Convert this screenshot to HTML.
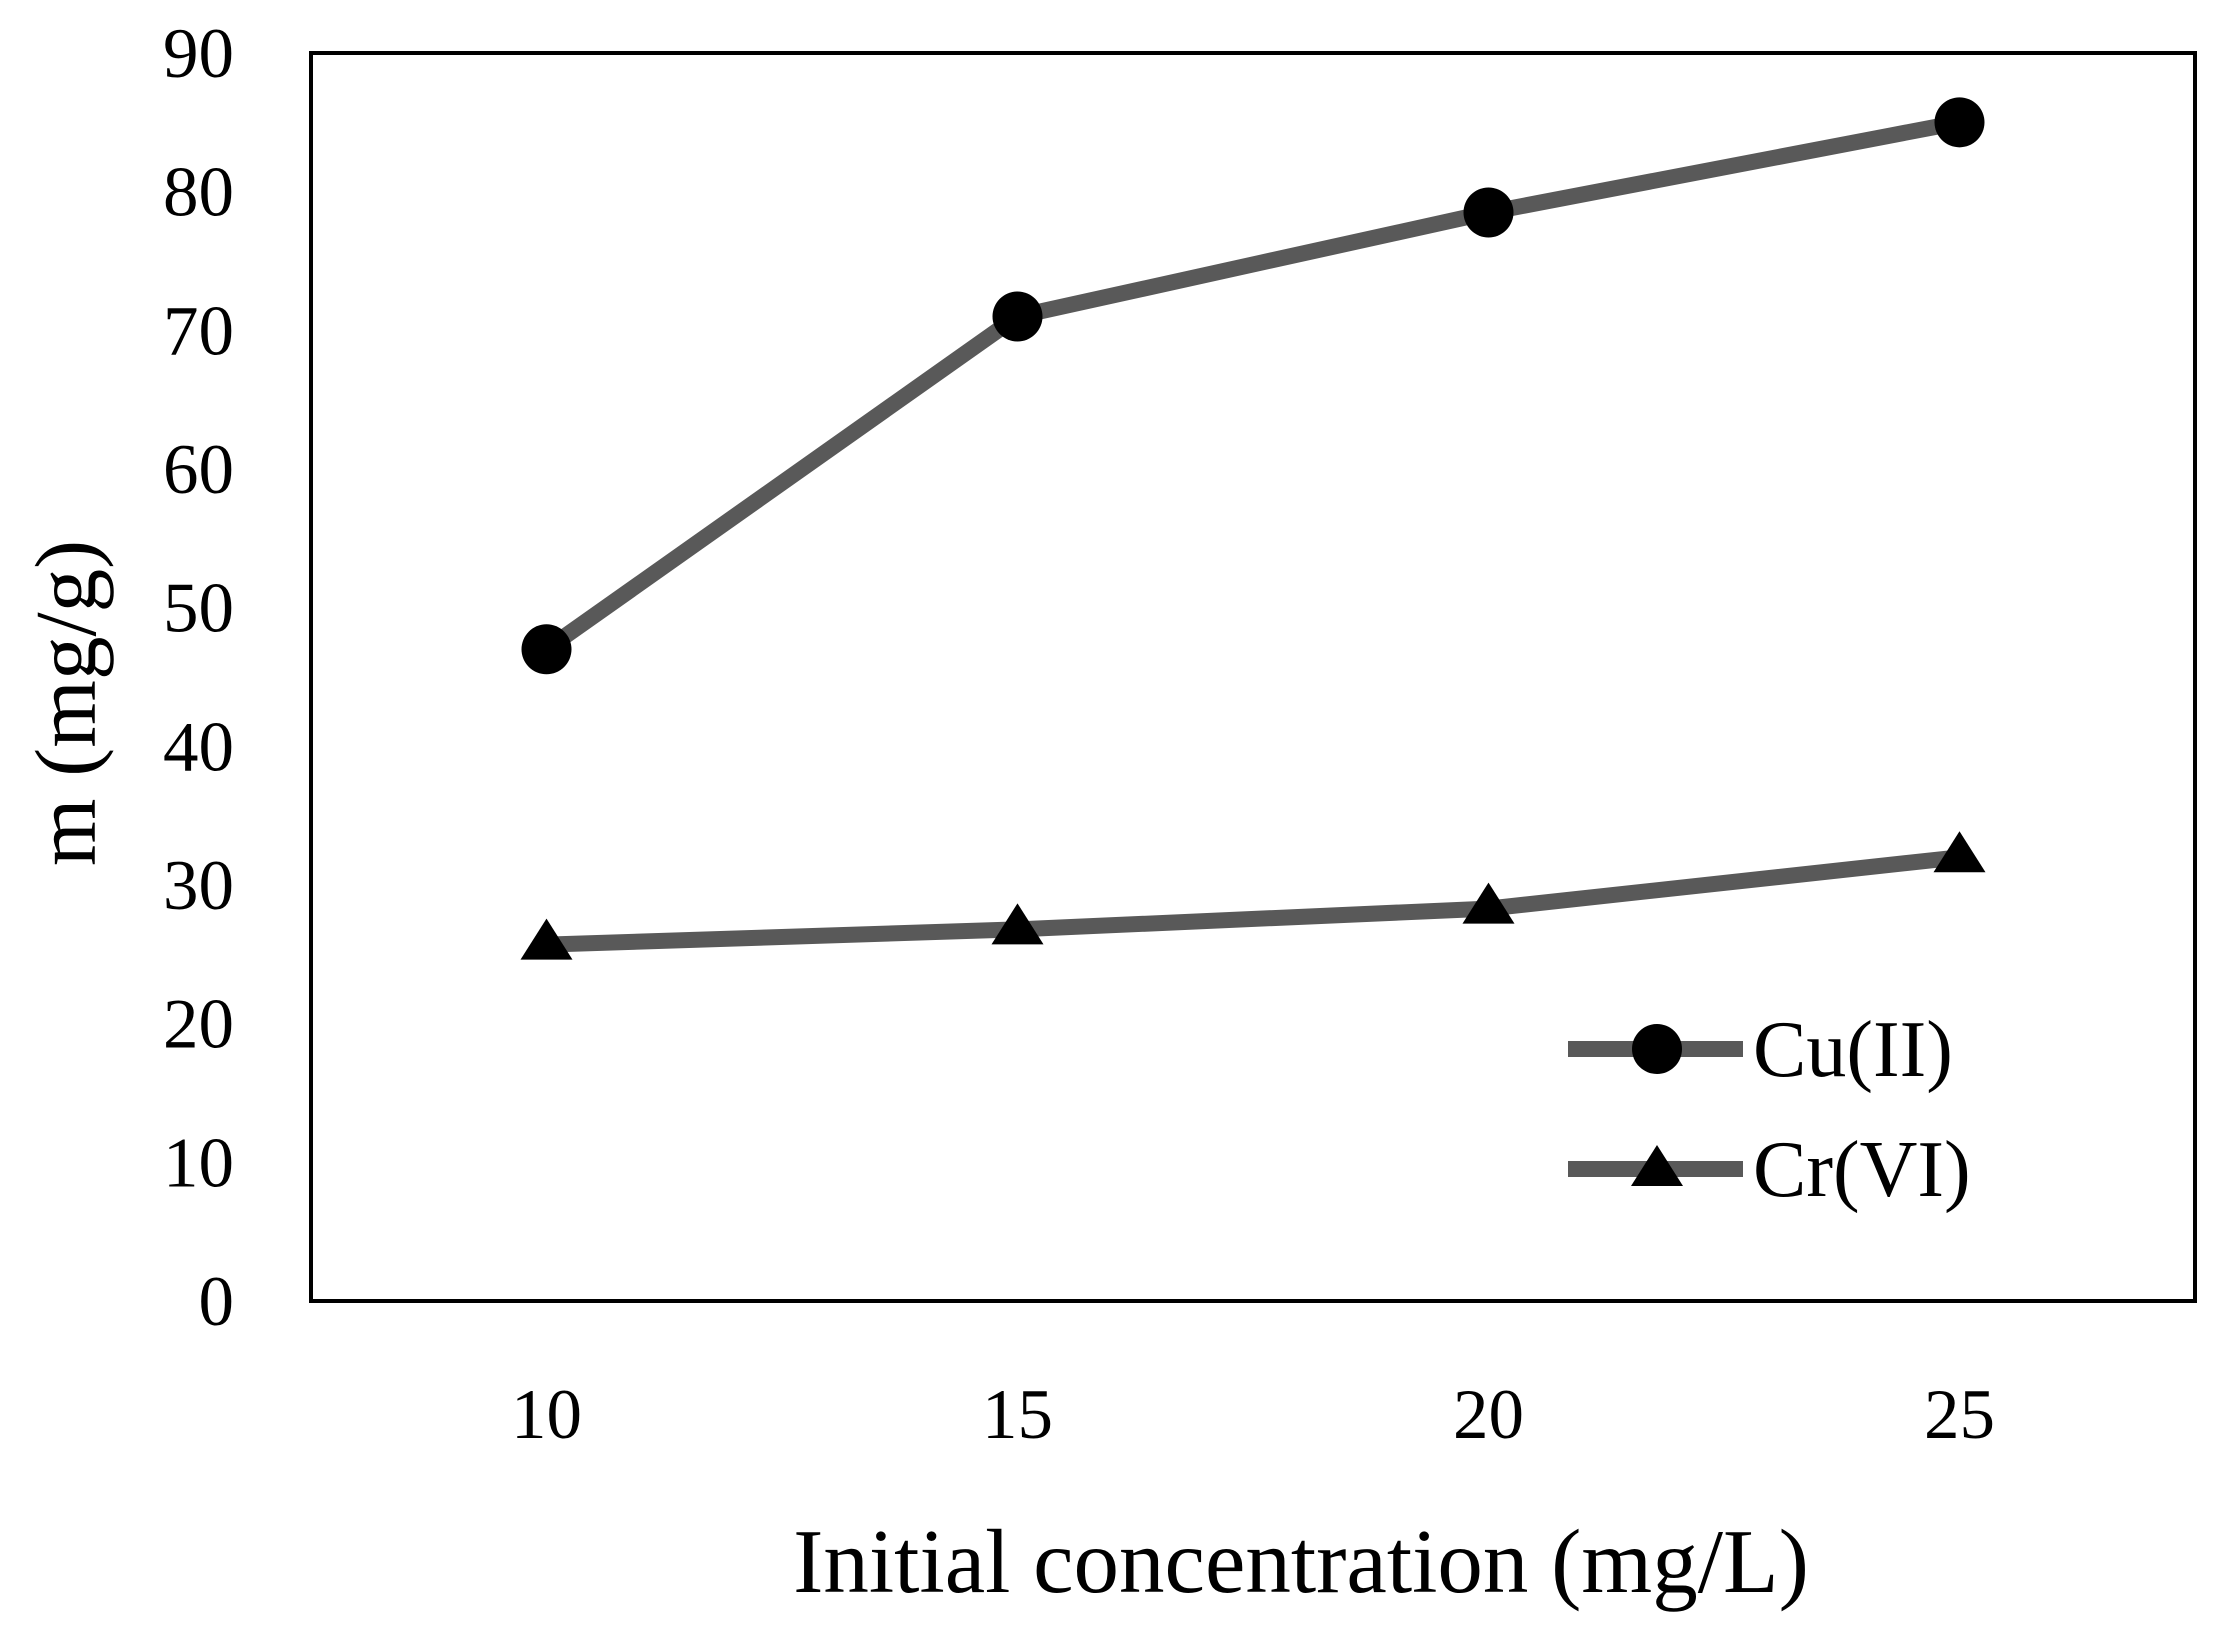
<!DOCTYPE html>
<html><head><meta charset="utf-8"><style>
html,body{margin:0;padding:0;background:#fff;}
svg text{font-family:"Liberation Serif",serif;fill:#000;}
</style></head><body>
<svg id="chart" width="2221" height="1621" viewBox="0 0 2221 1621" xmlns="http://www.w3.org/2000/svg">
<rect width="2221" height="1621" fill="#fff"/>
<g id="yticks"></g>
<g id="xticks"></g>
<g id="series"></g>
<rect x="311" y="53" width="1884" height="1248" fill="none" stroke="#000" stroke-width="4"/>
<text transform="translate(95,703) rotate(-90)" text-anchor="middle" font-size="87">m (mg/g)</text>
<text x="1301" y="1592" text-anchor="middle" font-size="91">Initial concentration (mg/L)</text>
<g>
<g>
<line x1="1568" y1="1049" x2="1743" y2="1049" stroke="#595959" stroke-width="16"/>
<circle cx="1657" cy="1049" r="25" fill="#000"/>
<text x="1753" y="1076" font-size="80">Cu(II)</text>
</g>
<g>
<line x1="1568" y1="1169" x2="1743" y2="1169" stroke="#595959" stroke-width="16"/>
<polygon points="1657,1145 1683,1186 1631,1186" fill="#000"/>
<text x="1753" y="1196" font-size="80">Cr(VI)</text>
</g>
</g>
</svg>
<script>
const categories = ["10","15","20","25"];
const cuValues = [47, 71, 78.5, 85];
const crValues = [25.7, 26.8, 28.3, 32];
const yTickLabels = [0,10,20,30,40,50,60,70,80,90];
const NS="http://www.w3.org/2000/svg";
const L=311,R=2195,T=53,B=1301,YMAX=90;
const xs=i=>L+(R-L)/categories.length*(i+0.5);
const ys=v=>B-(B-T)*v/YMAX;
function mk(tag,attrs,parent){const e=document.createElementNS(NS,tag);for(const k in attrs)e.setAttribute(k,attrs[k]);parent.appendChild(e);return e;}
const yt=document.getElementById('yticks');
yTickLabels.forEach(v=>{const t=mk('text',{x:234,y:ys(v)+24,'text-anchor':'end','font-size':71},yt);


t.textContent=v;});
const xt=document.getElementById('xticks');
categories.forEach((c,i)=>{const t=mk('text',{x:xs(i),y:1438,'text-anchor':'middle','font-size':71},xt);


t.textContent=c;});
const sg=document.getElementById('series');
function line(vals,name){const p=mk('polyline',{points:vals.map((v,i)=>xs(i)+','+ys(v)).join(' '),fill:'none',stroke:'#595959','stroke-width':16,'stroke-linejoin':'round'},sg);

}
line(cuValues,'cu-line');line(crValues,'cr-line');
cuValues.forEach((v,i)=>{const c=mk('circle',{cx:xs(i),cy:ys(v),r:25,fill:'#000'},sg);

});
crValues.forEach((v,i)=>{const x=xs(i),y=ys(v);const p=mk('polygon',{points:`${x},${y-26} ${x+26},${y+15} ${x-26},${y+15}`,fill:'#000'},sg);

});
</script>
</body></html>
